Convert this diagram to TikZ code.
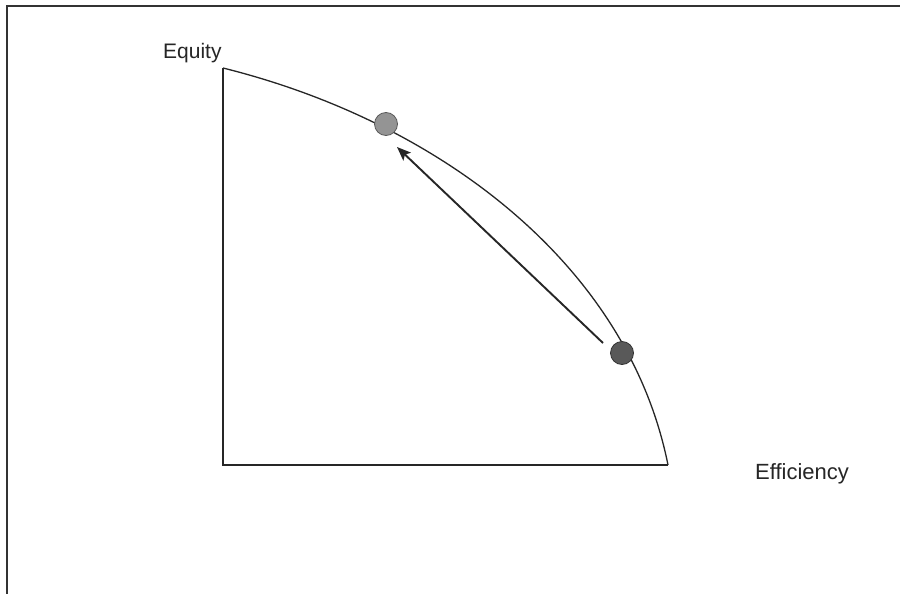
\documentclass[tikz,border=0pt]{standalone}
\usepackage{fontspec}
\setmainfont{Liberation Sans}
\usetikzlibrary{arrows.meta,calc}
\begin{document}
\begin{tikzpicture}[x=1pt,y=-1pt,
  frame/.style={line width=2.2pt,draw=black!80},
  axis/.style={line width=1.8pt,draw=black!85},
  frontier/.style={line width=1.3pt,draw=black!85},
  dot/.style={circle,inner sep=0pt,minimum size=23pt,line width=0.8pt},
  lbl/.style={font=\fontsize{21}{24}\selectfont,text=black!85,inner sep=0pt},
  move/.style={line width=1.9pt,draw=black!85,-{Stealth[length=14pt,width=11pt,inset=3pt]}}]
\useasboundingbox (0,0) rectangle (900,594);
\fill[white] (0,0) rectangle (900,594);
% frame
\coordinate (fbl) at (7,594);
\coordinate (ftl) at (7,6);
\coordinate (ftr) at (900,6);
\draw[frame] (fbl) -- (ftl) -- (ftr);
% axes
\coordinate (top) at (223,68);
\coordinate (origin) at (223,465);
\coordinate (right) at (668,465);
\draw[axis] (top) -- (origin) -- (right);
% frontier
\draw[frontier] (top) .. controls (440,122) and (628,265) .. (right);
% labels
\node[lbl,anchor=base west] (eq) at (163,59) {Equity};
\node[lbl,anchor=base west] (ef) at (755,479) {\addfontfeature{Ligatures=NoCommon}\fontsize{22}{24}\selectfont Efficiency};
% points
\node[dot,fill=black!42,draw=black!65] (up) at (386,124) {};
\node[dot,fill=black!65,draw=black!80] (low) at (622,353) {};
\coordinate (mstart) at ($(low)+(-19,-10)$);
\coordinate (mend) at ($(up)+(11,23)$);
\draw[move] (mstart) -- (mend);
\end{tikzpicture}
\end{document}
